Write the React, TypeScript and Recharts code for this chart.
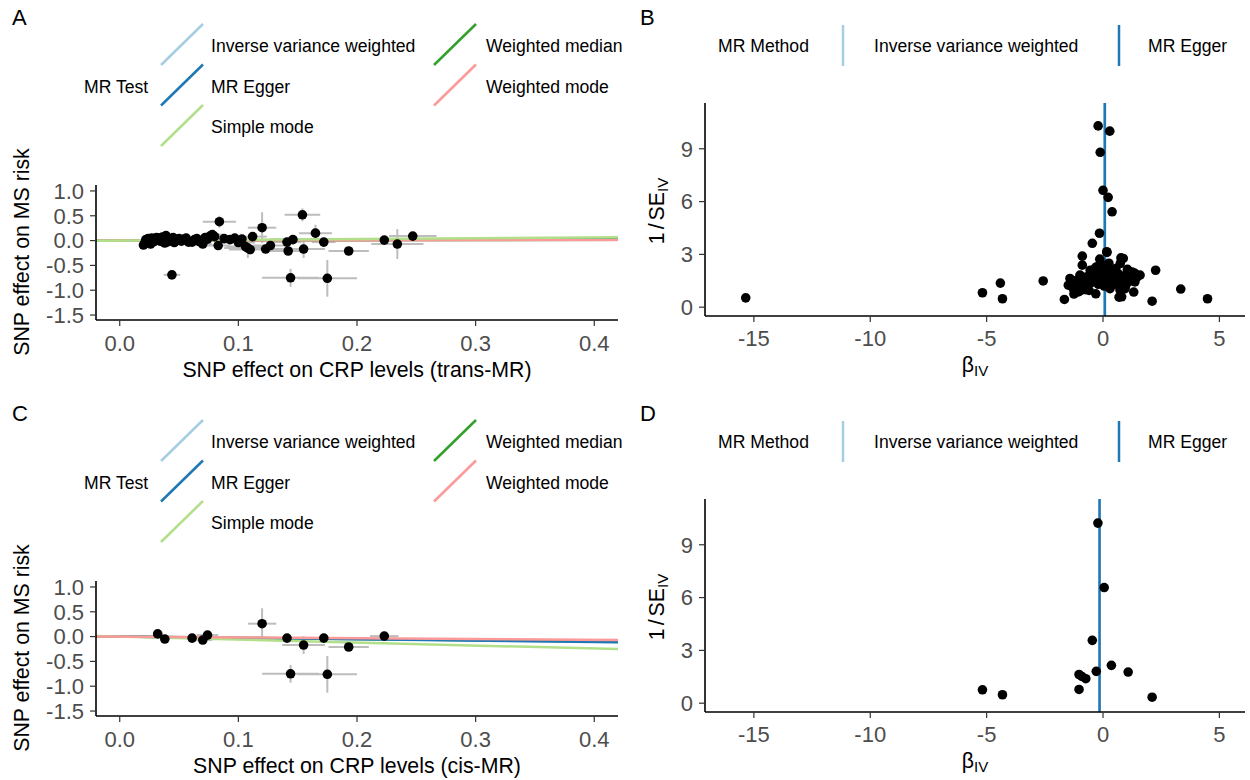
import React from "react";
import { ErrorBar, ReferenceLine, Scatter, ScatterChart, XAxis, YAxis } from "recharts";

const FONT = "'Liberation Sans', Arial, Helvetica, sans-serif";

// MR methods, in legend order
const methods = ["Inverse variance weighted", "MR Egger", "Simple mode", "Weighted median", "Weighted mode"];
const methodColors = ["#a6cee3", "#1f78b4", "#b2df8a", "#33a02c", "#fb9a99"];

// trans-MR: SNP effects on CRP (x) and MS (y) with standard errors
const transBx = [
  0.020, 0.021, 0.022, 0.023, 0.024, 0.025, 0.026, 0.027, 0.028, 0.029,
  0.030, 0.031, 0.032, 0.033, 0.034, 0.035, 0.036, 0.037, 0.038, 0.039,
  0.040, 0.041, 0.042, 0.044, 0.045, 0.046, 0.048, 0.050, 0.052, 0.054,
  0.056, 0.058, 0.061, 0.063, 0.065, 0.067, 0.070, 0.072, 0.074, 0.076,
  0.078, 0.080, 0.083, 0.084, 0.088, 0.093, 0.097, 0.100, 0.103, 0.106,
  0.108, 0.110, 0.112, 0.120, 0.123, 0.127, 0.141, 0.142, 0.144, 0.146,
  0.154, 0.155, 0.165, 0.172, 0.175, 0.193, 0.223, 0.234, 0.247,
];
const transBy = [
  -0.09, -0.05, 0.02, -0.03, 0.04, 0.00, -0.07, 0.05, 0.01, -0.02,
  0.03, 0.06, 0.054, 0.02, -0.01, 0.04, 0.07, -0.03, -0.05, 0.10,
  0.05, -0.02, 0.03, -0.69, 0.06, -0.04, 0.02, 0.04, -0.01, 0.03,
  0.05, -0.03, -0.03, 0.02, 0.04, -0.02, -0.07, 0.06, 0.03, 0.09,
  0.12, 0.08, -0.10, 0.38, 0.04, 0.02, 0.05, -0.04, 0.03, -0.12,
  -0.15, -0.18, 0.08, 0.26, -0.17, -0.10, -0.03, -0.21, -0.75, 0.02,
  0.52, -0.17, 0.15, -0.03, -0.76, -0.21, 0.01, -0.07, 0.09,
];
const transSeX = [
  0.003, 0.003, 0.003, 0.003, 0.003, 0.003, 0.003, 0.003, 0.003, 0.003,
  0.003, 0.003, 0.003, 0.003, 0.003, 0.003, 0.003, 0.003, 0.003, 0.003,
  0.004, 0.004, 0.004, 0.007, 0.004, 0.004, 0.005, 0.005, 0.005, 0.005,
  0.005, 0.006, 0.006, 0.006, 0.007, 0.007, 0.008, 0.008, 0.009, 0.008,
  0.009, 0.010, 0.010, 0.014, 0.012, 0.010, 0.012, 0.014, 0.012, 0.016,
  0.020, 0.018, 0.012, 0.012, 0.015, 0.015, 0.012, 0.016, 0.024, 0.020,
  0.015, 0.018, 0.014, 0.010, 0.025, 0.017, 0.012, 0.022, 0.020,
];
const transSeY = [
  0.03, 0.03, 0.03, 0.03, 0.03, 0.03, 0.03, 0.03, 0.03, 0.03,
  0.03, 0.03, 0.03, 0.03, 0.03, 0.03, 0.03, 0.03, 0.03, 0.03,
  0.03, 0.03, 0.03, 0.04, 0.03, 0.03, 0.04, 0.04, 0.04, 0.04,
  0.04, 0.04, 0.05, 0.04, 0.05, 0.05, 0.05, 0.05, 0.05, 0.06,
  0.06, 0.06, 0.06, 0.12, 0.06, 0.06, 0.07, 0.07, 0.07, 0.10,
  0.20, 0.10, 0.08, 0.31, 0.08, 0.08, 0.05, 0.08, 0.18, 0.08,
  0.13, 0.18, 0.17, 0.05, 0.37, 0.05, 0.05, 0.30, 0.05,
];
const transSlopes = [0.06, 0.07, 0.16, 0.04, 0.03];
const transIntercepts = [0, -0.002, 0, 0, 0];
const transDrawOrder = [0, 1, 3, 4, 2];

// cis-MR
const cisBx = [0.032, 0.038, 0.061, 0.070, 0.074, 0.120, 0.141, 0.144, 0.155, 0.172, 0.175, 0.193, 0.223];
const cisBy = [0.054, -0.05, -0.03, -0.07, 0.03, 0.26, -0.03, -0.75, -0.17, -0.03, -0.76, -0.21, 0.01];
const cisSeX = [0.004, 0.004, 0.006, 0.008, 0.009, 0.012, 0.012, 0.024, 0.018, 0.010, 0.025, 0.017, 0.012];
const cisSeY = [0.04, 0.04, 0.05, 0.05, 0.05, 0.31, 0.05, 0.18, 0.18, 0.05, 0.37, 0.05, 0.05];
const cisSlopes = [-0.26, -0.27, -0.6, -0.24, -0.16];
const cisIntercepts = [0, 0, 0, 0, 0];
const cisDrawOrder = [0, 3, 1, 2, 4];

// funnel plots: per-SNP IV estimate and its precision
const transFunnelBeta = [
  -15.35, -5.18, -4.41, -4.32, -2.57, -1.66, 1.32, 2.11, 2.26, 3.34, 4.49,
  -0.21, 0.29, -0.12, 0.0, 0.22, 0.39, -0.15, -0.46, -0.89, -0.89,
  0.17, 0.77, 0.74, -0.14, -0.31, 0.69, 0.77,
  -1.42, -1.49, -0.99, -1.06, -0.63, -0.55, -0.27, -0.13, 0.30, 0.51,
  0.87, 1.02, 1.37, 1.59, 1.37, 0.73, 0.80, 0.16,
  -1.30, -1.20, -1.10, -1.00, -0.90, -0.80, -0.75, -0.70, -0.60, -0.50,
  -0.45, -0.40, -0.35, -0.30, -0.20, -0.10, -0.05, 0.05, 0.10, 0.15,
  0.20, 0.25, 0.35, 0.40, 0.45, 0.55, 0.60, 0.65, 0.70, 0.90,
  1.00, 1.10, 1.20, 1.25, 1.45, -1.25, -0.95, 0.95, -0.60, 0.05, 0.30, -0.20, 1.05,
];
const transFunnelInvSe = [
  0.53, 0.82, 1.37, 0.48, 1.49, 0.44, 0.86, 0.34, 2.10, 1.03, 0.48,
  10.3, 10.0, 8.8, 6.64, 6.24, 5.42, 4.2, 3.63, 2.9, 2.39,
  3.11, 2.8, 2.48, 2.73, 0.76, 0.57, 0.95,
  1.63, 1.25, 1.82, 0.87, 1.35, 2.10, 2.30, 1.92, 2.10, 1.73,
  2.77, 1.92, 1.92, 1.82, 1.44, 0.97, 0.59, 3.15,
  1.10, 1.50, 1.30, 1.60, 1.20, 1.70, 1.00, 1.50, 1.80, 1.40,
  1.90, 1.60, 2.20, 1.70, 2.00, 1.60, 2.40, 1.80, 2.20, 1.50,
  1.90, 2.50, 1.60, 2.00, 1.30, 2.20, 1.50, 1.90, 1.20, 1.60,
  1.30, 1.80, 1.50, 2.00, 1.70, 0.75, 0.95, 1.05, 0.95, 1.20, 1.05, 1.30, 2.15,
];
const transFunnelEstimates = [0.06, 0.08]; // IVW, MR Egger

const cisFunnelBeta = [-5.18, -4.32, -1.03, -1.03, -0.91, -0.74, -0.29, -0.46, -0.22, 0.05, 0.36, 1.08, 2.11];
const cisFunnelInvSe = [0.76, 0.48, 0.78, 1.63, 1.52, 1.39, 1.81, 3.57, 10.23, 6.57, 2.15, 1.77, 0.34];
const cisFunnelEstimates = [-0.14, -0.15];

const scatterTicksX = [0, 0.1, 0.2, 0.3, 0.4];
const scatterTicksY = [-1.5, -1, -0.5, 0, 0.5, 1];
const funnelTicksX = [-15, -10, -5, 0, 5];
const funnelTicksY = [0, 3, 6, 9];

const tickStyle = { fill: "#4d4d4d", fontSize: 22, fontFamily: FONT };
const axisLine = { stroke: "#000", strokeWidth: 1.6 };
const tickLine = { stroke: "#333", strokeWidth: 1.2 };

function BlackDot(props: any) {
  const { cx, cy } = props;
  if (cx == null || cy == null) return <g />;
  return <circle cx={cx} cy={cy} r={4.8} fill="#000" />;
}

function abs(left: number, top: number, extra: React.CSSProperties = {}): React.CSSProperties {
  return { position: "absolute", left, top, whiteSpace: "nowrap", ...extra };
}

function MrScatter({ top, bx, by, seX, seY, slopes, intercepts, order }: any) {
  const rows = bx.map((x: number, i: number) => ({ x, y: by[i], ex: seX[i], ey: seY[i] }));
  const x0 = -0.02;
  const x1 = 0.42;
  return (
    <div style={abs(0, top)}>
      <ScatterChart width={630} height={395} margin={{ top: 185, right: 12, bottom: 25, left: 0 }}>
        <XAxis type="number" dataKey="x" domain={[x0, x1]} ticks={scatterTicksX} allowDataOverflow interval={0}
          tickFormatter={(v: number) => v.toFixed(1)} height={50} tick={tickStyle}
          axisLine={axisLine} tickLine={tickLine} tickSize={6} tickMargin={9} />
        <YAxis type="number" dataKey="y" domain={[-1.6, 1.12]} ticks={scatterTicksY} allowDataOverflow interval={0}
          tickFormatter={(v: number) => v.toFixed(1)} width={96} tick={tickStyle}
          axisLine={axisLine} tickLine={tickLine} tickSize={6} tickMargin={6} />
        <Scatter data={rows} shape={<BlackDot />} isAnimationActive={false}>
          <ErrorBar dataKey="ex" direction="x" width={0} stroke="#bdbdbd" strokeWidth={2} isAnimationActive={false} />
          <ErrorBar dataKey="ey" direction="y" width={0} stroke="#bdbdbd" strokeWidth={2} isAnimationActive={false} />
        </Scatter>
        {order.map((m: number) => (
          <ReferenceLine key={m} ifOverflow="hidden" stroke={methodColors[m]} strokeWidth={2.5}
            segment={[
              { x: x0, y: intercepts[m] + slopes[m] * x0 },
              { x: x1, y: intercepts[m] + slopes[m] * x1 },
            ]} />
        ))}
      </ScatterChart>
    </div>
  );
}

function Funnel({ top, beta, invSe, estimates }: any) {
  const rows = beta.map((b: number, i: number) => ({ b, s: invSe[i] }));
  return (
    <div style={abs(630, top)}>
      <ScatterChart width={620} height={395} margin={{ top: 103, right: 5, bottom: 29, left: 0 }}>
        <XAxis type="number" dataKey="b" domain={[-17.1, 6.1]} ticks={funnelTicksX} allowDataOverflow interval={0}
          height={50} tick={tickStyle} axisLine={axisLine} tickLine={tickLine} tickSize={6} tickMargin={8} />
        <YAxis type="number" dataKey="s" domain={[-0.5, 11.6]} ticks={funnelTicksY} allowDataOverflow interval={0}
          width={75} tick={tickStyle} axisLine={axisLine} tickLine={tickLine} tickSize={6} tickMargin={6} />
        <Scatter data={rows} shape={<BlackDot />} isAnimationActive={false} />
        {estimates.map((e: number, i: number) => (
          <ReferenceLine key={i} x={e} stroke={methodColors[i]} strokeWidth={2.5} />
        ))}
      </ScatterChart>
    </div>
  );
}

const testLegendCol = [0, 0, 0, 1, 1];
const testLegendRow = [0, 1, 2, 0, 1];
const legendText: React.CSSProperties = { fontSize: 17.6, lineHeight: "22px" };

function TestLegend({ top }: { top: number }) {
  return (
    <>
      <div style={abs(84, top + 76, legendText)}>MR Test</div>
      <svg style={abs(0, top)} width={630} height={160}>
        {methods.map((m, i) => {
          const kx = testLegendCol[i] ? 434 : 161;
          const ky = 24 + testLegendRow[i] * 40.5;
          return <line key={m} x1={kx} y1={ky + 41} x2={kx + 42} y2={ky} stroke={methodColors[i]} strokeWidth={2.5} />;
        })}
      </svg>
      {methods.map((m, i) => (
        <div key={m} style={abs(testLegendCol[i] ? 486 : 211, top + 35 + testLegendRow[i] * 40.5, legendText)}>
          {m}
        </div>
      ))}
    </>
  );
}

function MethodLegend({ top }: { top: number }) {
  return (
    <>
      <div style={abs(718, top + 35, legendText)}>MR Method</div>
      <svg style={abs(630, top)} width={620} height={80}>
        <line x1={213} y1={25} x2={213} y2={66} stroke={methodColors[0]} strokeWidth={2.5} />
        <line x1={489} y1={25} x2={489} y2={66} stroke={methodColors[1]} strokeWidth={2.5} />
      </svg>
      <div style={abs(874, top + 35, legendText)}>{methods[0]}</div>
      <div style={abs(1148, top + 35, legendText)}>{methods[1]}</div>
    </>
  );
}

function Titles({ top, cisTrans }: { top: number; cisTrans: string }) {
  const title: React.CSSProperties = { fontSize: 21.3, lineHeight: "26px", textAlign: "center" };
  const sub: React.CSSProperties = { fontSize: 15, verticalAlign: "-4px" };
  return (
    <>
      <div style={abs(96, top + 357, { ...title, width: 522 })}>SNP effect on CRP levels ({cisTrans})</div>
      <div style={abs(22 - 150, top + 252 - 13, { ...title, width: 300, transform: "rotate(-90deg)" })}>SNP effect on MS risk</div>
      <div style={abs(705, top + 352, { ...title, width: 540 })}>
        β<span style={sub}>IV</span>
      </div>
      <div style={abs(660 - 150, top + 208 - 13, { ...title, width: 300, transform: "rotate(-90deg)" })}>
        1<span style={{ padding: "0 3px" }}>/</span>SE<span style={sub}>IV</span>
      </div>
    </>
  );
}

export default function App() {
  const letter: React.CSSProperties = { fontSize: 22, lineHeight: "26px" };
  return (
    <div style={{ position: "absolute", left: 0, top: 0, width: 1250, height: 780, background: "#fff", color: "#000", fontFamily: FONT, overflow: "hidden" }}>
      <MrScatter top={0} bx={transBx} by={transBy} seX={transSeX} seY={transSeY}
        slopes={transSlopes} intercepts={transIntercepts} order={transDrawOrder} />
      <MrScatter top={396} bx={cisBx} by={cisBy} seX={cisSeX} seY={cisSeY}
        slopes={cisSlopes} intercepts={cisIntercepts} order={cisDrawOrder} />
      <Funnel top={0} beta={transFunnelBeta} invSe={transFunnelInvSe} estimates={transFunnelEstimates} />
      <Funnel top={396} beta={cisFunnelBeta} invSe={cisFunnelInvSe} estimates={cisFunnelEstimates} />
      <TestLegend top={0} />
      <TestLegend top={396} />
      <MethodLegend top={0} />
      <MethodLegend top={396} />
      <Titles top={0} cisTrans="trans-MR" />
      <Titles top={396} cisTrans="cis-MR" />
      <div style={abs(12, 5, letter)}>A</div>
      <div style={abs(640, 5, letter)}>B</div>
      <div style={abs(12, 401, letter)}>C</div>
      <div style={abs(640, 401, letter)}>D</div>
    </div>
  );
}
